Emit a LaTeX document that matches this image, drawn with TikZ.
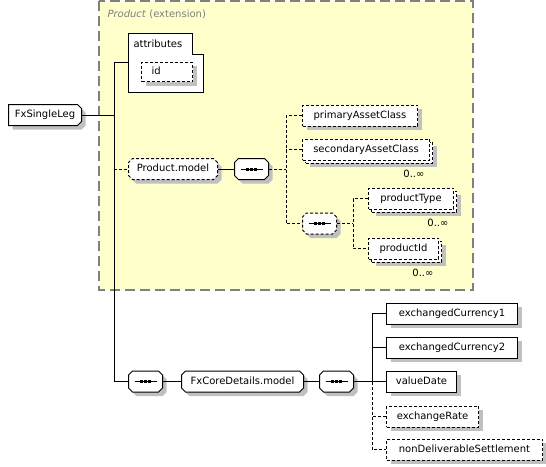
\documentclass[tikz,border=0pt]{standalone}
\usepackage{fontspec}
\setmainfont{DejaVu Sans}
\usetikzlibrary{shapes.misc,shadows}
\definecolor{extfill}{RGB}{255,255,204}
\definecolor{extline}{RGB}{128,128,128}
\definecolor{shade}{RGB}{192,192,192}

\tikzset{
	elem/.style={draw,fill=white,rectangle,anchor=west,minimum height=21pt,inner xsep=3pt,inner ysep=0pt,text height=7.6pt,text depth=2.4pt,font=\fontsize{10}{12}\selectfont},
	box/.style={elem,drop shadow={shadow xshift=4pt,shadow yshift=-4pt,fill=shade,opacity=1}},
	many/.style={elem,drop shadow={shadow xshift=7pt,shadow yshift=-7pt,fill=shade,opacity=1},copy shadow={shadow xshift=3pt,shadow yshift=-3pt}},
	opt/.style={dash pattern=on 3pt off 2pt},
	oct/.style={chamfered rectangle,chamfered rectangle xsep=2pt,chamfered rectangle ysep=2pt,minimum height=0pt,inner sep=0pt,text width=#1,align=center,text height=11.2pt,text depth=5.8pt},
	seq/.style={box,oct=30pt,path picture={
		\draw[solid,black] ([xshift=-11pt]path picture bounding box.center) -- ([xshift=11pt]path picture bounding box.center);
		\foreach \d in {-4,0,4}
			\fill[black] ([xshift=\d pt]path picture bounding box.center) +(-1.5,-1.5) rectangle +(1.5,1.5);
	}},
	optlink/.style={dash pattern=on 3pt off 2pt},
	card/.style={anchor=east,inner sep=0pt,font=\fontsize{10}{12}\selectfont},
}

\begin{document}
\begin{tikzpicture}[x=1pt,y=-1pt,line width=1pt]
	\useasboundingbox (0,0) rectangle (546,466);
	%extension area
	\draw[extline,fill=extfill,line width=1.4pt,dash pattern=on 10pt off 5pt] (99,1) rectangle (473,290);
	\node[anchor=west,inner sep=0pt,text=extline,font=\fontsize{10}{12}\selectfont] (ext) at (107,14) {\textit{Product} (extension)};

	\node[box,oct=69pt,chamfered rectangle corners={north east,south east}] (leg) at (8,115) {FxSingleLeg};
	\coordinate (spine) at (114,0);

	%attributes
	\draw[fill=white] (128,33) -- (192,33) -- (192,54) -- (203,54) -- (203,92) -- (128,92) -- cycle;
	\node[anchor=west,inner sep=0pt,font=\fontsize{10}{12}\selectfont] (attr) at (133,43.5) {attributes};
	\coordinate (attrin) at (128,62);
	\node[box,opt,minimum width=51pt,minimum height=19.5pt,text width=31pt,inner xsep=10pt] (id) at (141,72) {id};

	%Product.model
	\node[box,oct=85pt,opt] (pm) at (128,169) {Product.model};
	\node[seq] (s1) at (234,169) {};
	\coordinate (fork1) at (286,0);
	\node[box,opt,minimum width=115pt] (pac) at (302,115.5) {primaryAssetClass};
	\node[many,opt,minimum width=127pt] (sac) at (302,149.5) {secondaryAssetClass};
	\node[card] (sacn) at ([xshift=-5pt,yshift=-13pt]sac.south east) {0..∞};
	\node[seq,opt] (s2) at (302,223.5) {};
	\coordinate (fork2) at (353,0);
	\node[many,opt,minimum width=85pt] (ptype) at (368,198.5) {productType};
	\node[card] (ptypen) at ([xshift=-5pt,yshift=-13pt]ptype.south east) {0..∞};
	\node[many,opt,minimum width=70pt] (pid) at (368,248.5) {productId};
	\node[card] (pidn) at ([xshift=-5pt,yshift=-13pt]pid.south east) {0..∞};

	%FxCoreDetails.model
	\node[seq] (s3) at (128,381.5) {};
	\node[box,oct=118pt] (fcd) at (181,381.5) {FxCoreDetails.model};
	\node[seq] (s4) at (319,381.5) {};
	\coordinate (fork3) at (372,0);
	\node[box,minimum width=131pt] (ec1) at (386,313.5) {exchangedCurrency1};
	\node[box,minimum width=131pt] (ec2) at (386,347.5) {exchangedCurrency2};
	\node[box,minimum width=70pt] (vd) at (386,381.5) {valueDate};
	\node[box,opt,minimum width=92pt] (er) at (386,416.5) {exchangeRate};
	\node[box,opt,minimum width=156pt] (nds) at (386,449.5) {nonDeliverableSettlement};

	%connectors
	\draw (leg.east) -- (spine |- leg.east);
	\draw (attrin) -| (spine |- s3.west) -- (s3.west);
	\draw[optlink] (spine |- pm.west) -- (pm.west);
	\draw (pm.east) -- (s1.west);
	\draw[optlink] (s1.east) -- (fork1 |- s1.east);
	\draw[optlink] (pac.west) -| (fork1 |- s2.west) -- (s2.west);
	\draw[optlink] (sac.west) -- (fork1 |- sac.west);
	\draw[optlink] (s2.east) -- (fork2 |- s2.east);
	\draw[optlink] (ptype.west) -| (fork2 |- pid.west) -- (pid.west);
	\draw (s3.east) -- (fcd.west) (fcd.east) -- (s4.west);
	\draw (s4.east) -- (fork3 |- s4.east);
	\draw (ec1.west) -| (fork3 |- vd.west) -- (vd.west);
	\draw (ec2.west) -- (fork3 |- ec2.west);
	\draw[optlink] (fork3 |- vd.west) |- (nds.west);
	\draw[optlink] (er.west) -- (fork3 |- er.west);
\end{tikzpicture}
\end{document}
